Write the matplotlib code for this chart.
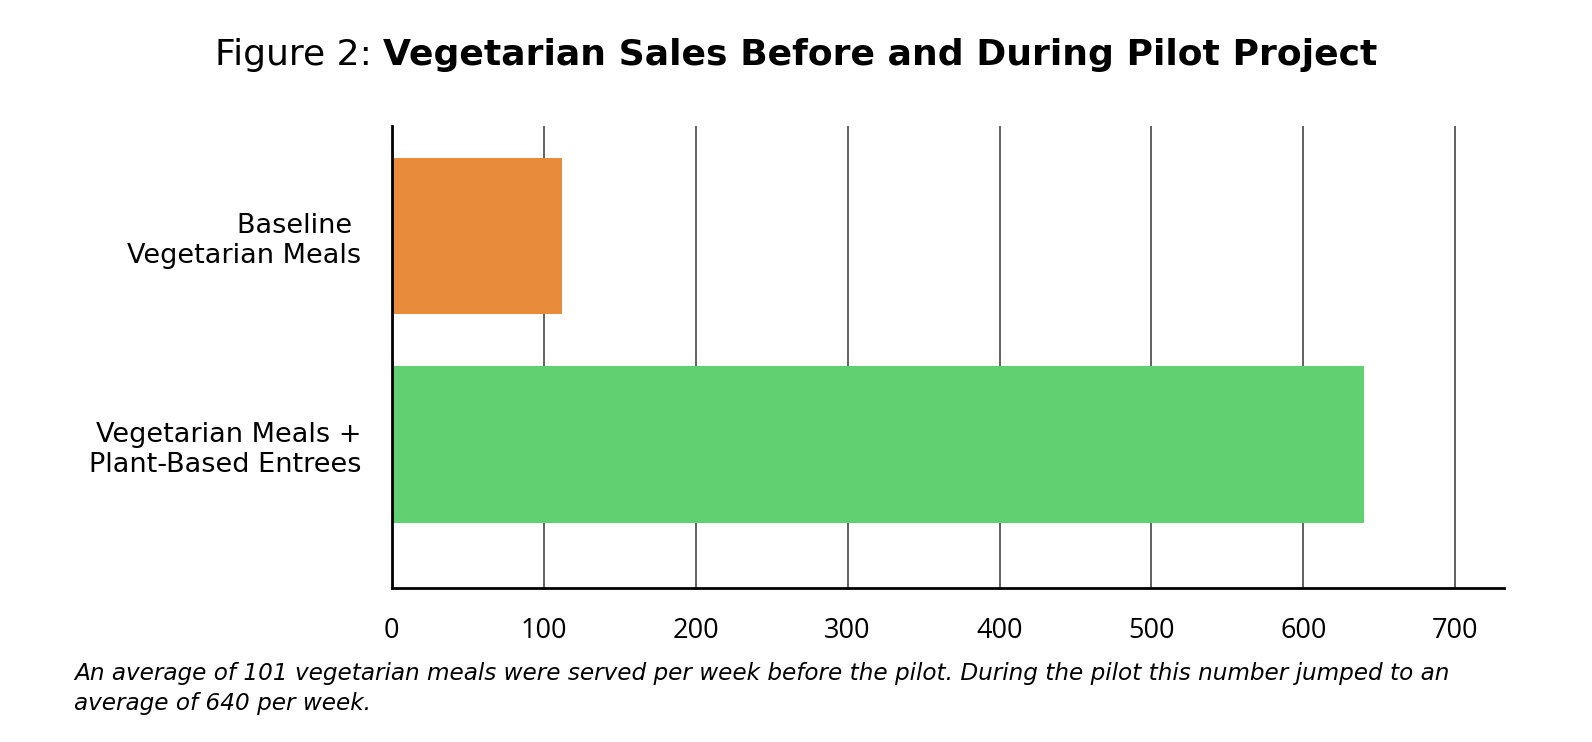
"""Figure 2: vegetarian sales before and during the pilot project."""
import matplotlib
matplotlib.use('Agg')
import matplotlib.pyplot as plt

categories = ['Vegetarian Meals +\nPlant-Based Entrees', 'Baseline \nVegetarian Meals']
values = [640, 112]
colors = ['#60D070', '#E88B3A']
xticks = [0, 100, 200, 300, 400, 500, 600, 700]

title_plain = 'Figure 2: '
title_bold = 'Vegetarian Sales Before and During Pilot Project'
caption = ('An average of 101 vegetarian meals were served per week before the pilot. '
           'During the pilot this number jumped to an\naverage of 640 per week.')

W, H = 1592, 742
fig = plt.figure(figsize=(W / 100, H / 100), dpi=100)
ax = fig.add_axes([391.7 / W, 1 - 587.7 / H, (1504 - 391.7) / W, (587.7 - 126) / H])

ypos = list(range(len(categories)))
ax.barh(ypos, values, height=0.75, color=colors, zorder=2)
ax.set_xlim(0, 732)
ax.set_ylim(-0.685, 1.526)

for x in xticks[1:]:
    ax.axvline(x, color='#555555', lw=1.3, zorder=1)

ax.set_yticks(ypos)
ax.set_yticklabels(categories, fontsize=19.5, family='DejaVu Sans', linespacing=1.2)
ax.set_xticks(xticks)
ax.set_xticklabels([str(t) for t in xticks], fontsize=19.5, family='Open Sans')
ax.tick_params(axis='y', length=0, pad=22)
ax.tick_params(axis='x', length=0, pad=21)

for s in ['top', 'right']:
    ax.spines[s].set_visible(False)
for s in ['left', 'bottom']:
    ax.spines[s].set_linewidth(2)
    ax.spines[s].set_color('black')
    ax.spines[s].set_zorder(3)

# title: regular part + bold part, centred together
t1 = fig.text(0, 1 - 65 / H, title_plain, fontsize=26, family='DejaVu Sans', va='baseline')
t2 = fig.text(0, 1 - 65 / H, title_bold, fontsize=26, family='DejaVu Sans',
              weight='bold', va='baseline')
r = fig.canvas.get_renderer()
w1 = t1.get_window_extent(r).width
w2 = t2.get_window_extent(r).width
x0 = (W - w1 - w2) / 2
t1.set_x(x0 / W)
t2.set_x((x0 + w1) / W)

fig.text(74 / W, 1 - 662 / H, caption, fontsize=16.7, family='DejaVu Sans', style='italic',
         va='top', linespacing=1.4)

fig.savefig('out.png', dpi=100, facecolor='white')
